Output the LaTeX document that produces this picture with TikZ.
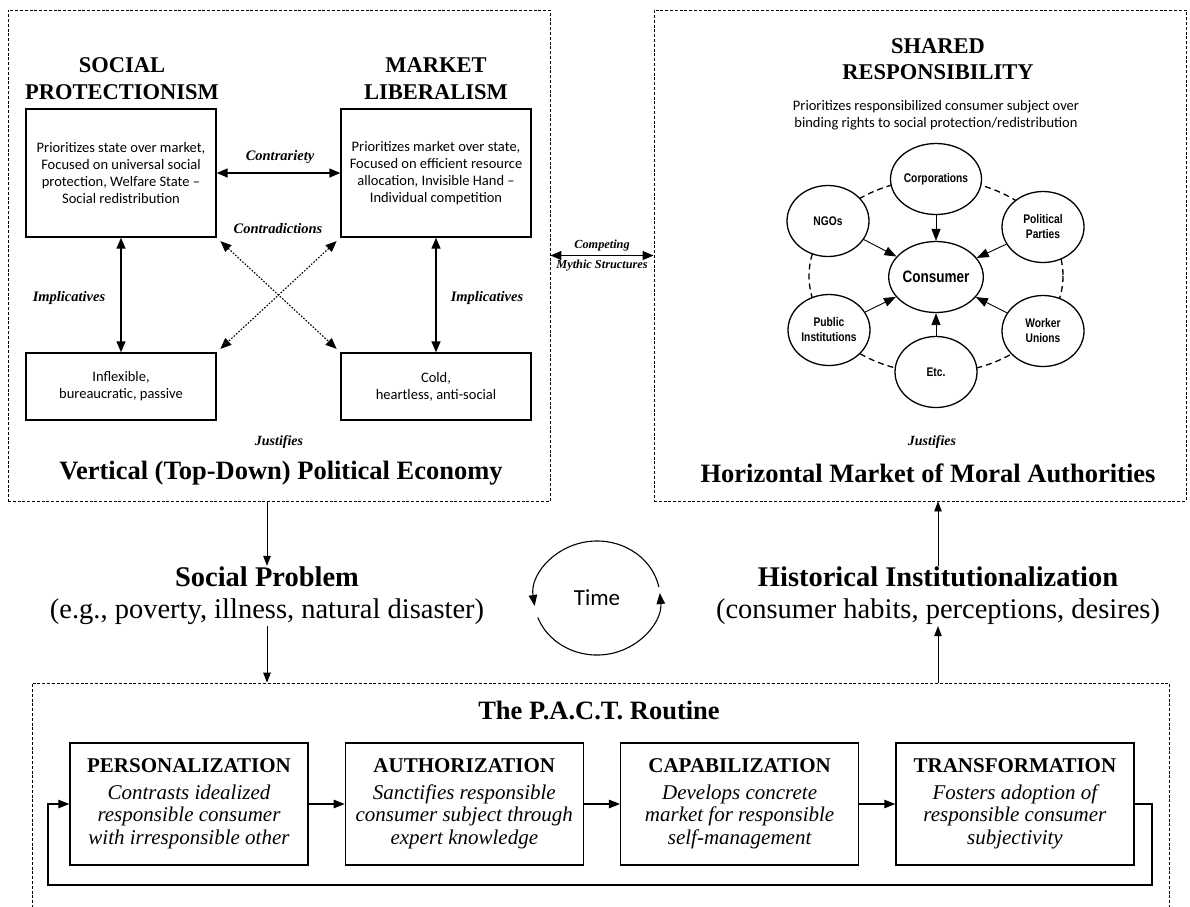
\documentclass[tikz,border=0pt]{standalone}
\usepackage{fontspec}
\setmainfont{Liberation Serif}
\newfontfamily\boxfont{Carlito}
\newfontfamily\narrowfont[FakeStretch=0.82]{Liberation Sans}
\usetikzlibrary{arrows.meta,shapes.geometric,positioning}

\begin{document}
\begin{tikzpicture}[x=1pt,y=-1pt,
    panel/.style={draw, line width=0.9pt, dash pattern=on 3pt off 1.8pt, inner sep=0pt},
    head/.style={font=\bfseries\fontsize{22.5}{26.5}\selectfont, align=center},
    bighead/.style={font=\bfseries\fontsize{26.5}{30}\selectfont},
    lbl/.style={font=\bfseries\itshape\fontsize{14.5}{17}\selectfont},
    idea/.style={draw, line width=1.4pt, minimum width=190pt, minimum height=128pt, align=center, font=\boxfont\fontsize{14.5}{17}\selectfont},
    trait/.style={idea, minimum height=67pt},
    actor/.style={draw, ellipse, fill=white, line width=1.3pt, minimum width=82pt, minimum height=71pt, inner sep=0pt, align=center, font=\narrowfont\bfseries\fontsize{12.5}{15}\selectfont},
    stage/.style={draw, line width=1.3pt, minimum width=238pt, minimum height=122pt, align=center, font=\itshape\fontsize{21}{22.5}\selectfont},
    both/.style={{Triangle[length=11pt,width=9pt]}-{Triangle[length=11pt,width=9pt]}, line width=1.4pt},
    flow/.style={-{Triangle[length=10pt,width=7.5pt]}, line width=0.9pt},
    push/.style={-{Triangle[length=11pt,width=8.5pt]}, line width=1.1pt},
]
\useasboundingbox (0,0) rectangle (1190,906);

% panels
\node[panel, minimum width=542pt, minimum height=491pt] (vpe) at (279,255.5) {};
\node[panel, minimum width=532pt, minimum height=491pt] (hma) at (920,255.5) {};
\node[panel, minimum width=1137pt, minimum height=240pt] (pact) at (600.5,803) {};

% vertical political economy
\node[head] (sptitle) at (122,78.5) {SOCIAL\\PROTECTIONISM};
\node[head] (mltitle) at (436,78.5) {MARKET\\LIBERALISM};
\node[idea] (sp) at (121,173) {Prioritizes state over market,\\Focused on universal social\\protection, Welfare State –\\Social redistribution};
\node[idea] (ml) at (436,173) {Prioritizes market over state,\\Focused on efficient resource\\allocation, Invisible Hand –\\Individual competition};
\node[trait] (inflex) at (121,386.5) {Inflexible,\\bureaucratic, passive};
\node[trait] (cold) at (436,386.5) {Cold,\\heartless, anti-social};
\draw[both] (sp) -- (ml);
\draw[both] (sp) -- (inflex);
\draw[both] (ml) -- (cold);
\draw[both, line width=1.1pt, dash pattern=on 1.6pt off 1.6pt, shorten <=5pt, shorten >=5pt] (sp.south east) -- (cold.north west);
\draw[both, line width=1.1pt, dash pattern=on 1.6pt off 1.6pt, shorten <=5pt, shorten >=5pt] (ml.south west) -- (inflex.north east);
\node[lbl] (contra) at (280,157) {Contrariety};
\node[lbl] (contrad) at (278,229) {Contradictions};
\node[lbl] (implleft) at (69,298) {Implicatives};
\node[lbl] (implright) at (487,298) {Implicatives};
\node[lbl, font=\bfseries\itshape\fontsize{14}{16}\selectfont] (justleft) at (279,442) {Justifies};
\node[bighead] (vtitle) at (281,473) {Vertical (Top-Down) Political Economy};

% horizontal market
\node[head] (srtitle) at (938,59) {SHARED\\RESPONSIBILITY};
\node[font=\boxfont\fontsize{14.5}{16.5}\selectfont, align=center] (srtext) at (936,115) {Prioritizes responsibilized consumer subject over\\binding rights to social protection/redistribution};
\draw[line width=1.3pt, dash pattern=on 6pt off 4pt] (936,276) ellipse [x radius=127, y radius=97];
\node[actor, font=\narrowfont\bfseries\fontsize{16.5}{18}\selectfont] (consumer) at (936,277) {Consumer};
\node[actor] (corp) at (936,179) {Corporations};
\node[actor] (ngo) at (828,221) {NGOs};
\node[actor] (party) at (1043,227) {Political\\Parties};
\node[actor] (pubinst) at (829,330) {Public\\Institutions};
\node[actor] (union) at (1043,331) {Worker\\Unions};
\node[actor] (etc) at (936,372) {Etc.};
\foreach \n in {corp,ngo,party,pubinst,union,etc}
  \draw[flow, -{Triangle[length=12pt,width=9pt]}] (\n) -- (consumer);
\node[lbl, font=\bfseries\itshape\fontsize{14}{16}\selectfont] (justright) at (932,442) {Justifies};
\node[bighead] (htitle) at (928,473) {Horizontal Market of Moral Authorities};

\draw[both, line width=1.3pt] (vpe.east) -- (hma.west)
  node[midway, above=0.5pt, font=\bfseries\itshape\fontsize{12.3}{14}\selectfont] (compa) {Competing}
  node[midway, below=0.5pt, font=\bfseries\itshape\fontsize{12.3}{14}\selectfont] (compb) {Mythic Structures};

% middle row
\node[align=center, font=\fontsize{28.5}{32}\selectfont, inner sep=1pt] (prob) at (267,596) {\textbf{Social Problem}\\(e.g., poverty, illness, natural disaster)};
\node[align=center, font=\fontsize{28.5}{32}\selectfont, inner sep=1pt] (hist) at (938,596) {\textbf{Historical Institutionalization}\\(consumer habits, perceptions, desires)};
\node[font=\boxfont\fontsize{23}{26}\selectfont] (time) at (597,598) {Time};
\draw[push] (time.center) ++(-11:63 and 57) arc[start angle=-11, end angle=-188, x radius=63, y radius=57];
\draw[push] (time.center) ++(-200:63 and 57) arc[start angle=-200, end angle=-365, x radius=63, y radius=57];
\draw[flow] (vpe.south -| prob.north) -- (prob.north);
\draw[flow] (prob.south) -- (prob.south |- pact.north);
\draw[flow] (hist.south |- pact.north) -- (hist.south);
\draw[flow] (hist.north) -- (hist.north |- hma.south);

% the routine
\node[bighead] (pacttitle) at (599,710) {The P.A.C.T. Routine};
\node[stage] (pers) at (189,804) {\textup{\textbf{PERSONALIZATION}}\\[4pt]Contrasts idealized\\responsible consumer\\with irresponsible other};
\node[stage, right=36pt of pers] (auth) {\textup{\textbf{AUTHORIZATION}}\\[4pt]Sanctifies responsible\\consumer subject through\\expert knowledge};
\node[stage, right=36pt of auth] (capa) {\textup{\textbf{CAPABILIZATION}}\\[4pt]Develops concrete\\market for responsible\\self-management};
\node[stage, right=36pt of capa] (trans) {\textup{\textbf{TRANSFORMATION}}\\[4pt]Fosters adoption of\\responsible consumer\\subjectivity};
\draw[push] (pers) -- (auth);
\draw[push] (auth) -- (capa);
\draw[push] (capa) -- (trans);
\coordinate (loopr) at (1152,885);
\coordinate (loopl) at (48,885);
\draw[push] (trans.east) -| (loopr) -- (loopl) |- (pers.west);
\end{tikzpicture}
\end{document}
